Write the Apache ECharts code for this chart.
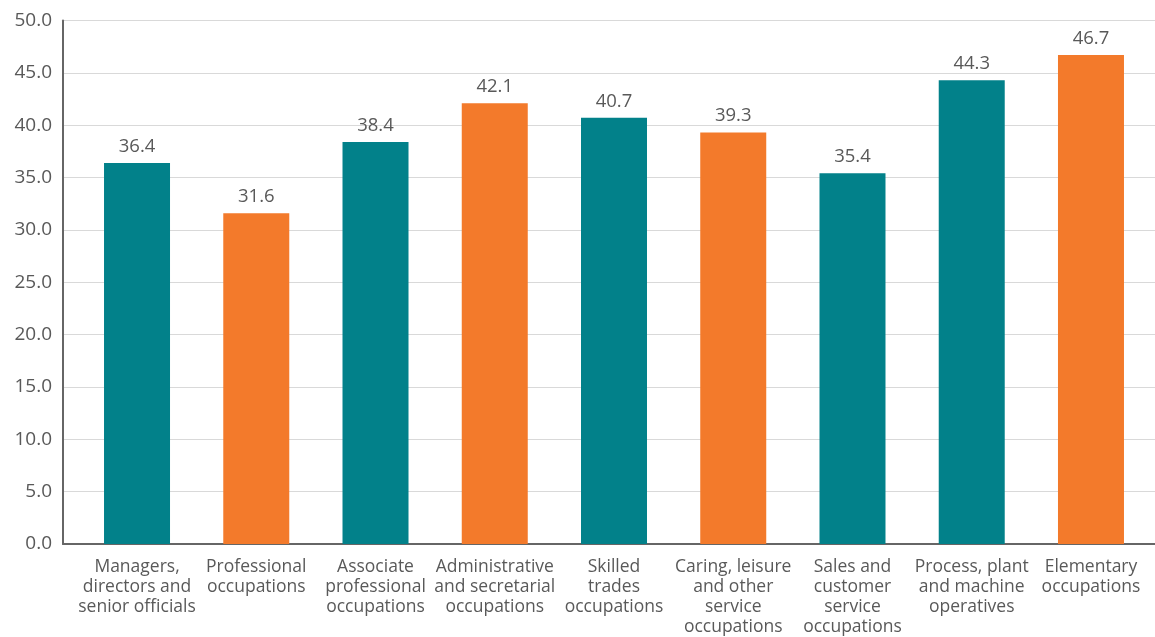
<!DOCTYPE html>
<html><head><meta charset="utf-8">
<script src="https://cdn.jsdelivr.net/npm/echarts@6/dist/echarts.min.js"></script>
<style>html,body{margin:0;padding:0;background:#fff}#c{width:1155px;height:637px}</style>
</head><body><div id="c"></div>
<script>
const categories = [
  "Managers,\ndirectors and\nsenior officials",
  "Professional\noccupations",
  "Associate\nprofessional\noccupations",
  "Administrative\nand secretarial\noccupations",
  "Skilled\ntrades\noccupations",
  "Caring, leisure\nand other\nservice\noccupations",
  "Sales and\ncustomer\nservice\noccupations",
  "Process, plant\nand machine\noperatives",
  "Elementary\noccupations"
];
const values = [36.4, 31.6, 38.4, 42.1, 40.7, 39.3, 35.4, 44.3, 46.7];
const barColors = ["teal","orange","teal","orange","teal","orange","teal","teal","orange"];
const yTicks = {min: 0, max: 50, interval: 5};

const palette = {teal: "#02818a", orange: "#f37a2b"};
const textColor = "#595959";
const font = "'Open Sans', sans-serif";

const chart = echarts.init(document.getElementById('c'));
chart.setOption({
  animation: false,
  grid: [
    {left: 63, right: 0, top: 20.5, bottom: 93, containLabel: false},
    {left: 77.4, right: 4.4, top: 20.5, bottom: 93, containLabel: false}
  ],
  xAxis: [
    {gridIndex: 0, type: 'value', min: 0, max: 1, axisLabel: {show: false}, axisTick: {show: false},
     splitLine: {show: false}, axisLine: {show: true, lineStyle: {color: '#666', width: 2}}},
    {gridIndex: 1, type: 'category', data: categories, axisLine: {show: false}, axisTick: {show: false},
     axisLabel: {interval: 0, color: textColor, fontFamily: font, fontSize: 17.5, lineHeight: 20, margin: 13}}
  ],
  yAxis: [
    {gridIndex: 0, type: 'value', min: yTicks.min, max: yTicks.max, interval: yTicks.interval,
     axisLine: {show: true, lineStyle: {color: '#666', width: 2}}, axisTick: {show: false},
     axisLabel: {color: textColor, fontFamily: font, fontSize: 19, margin: 11, formatter: v => v.toFixed(1)},
     splitLine: {show: true, lineStyle: {color: '#d9d9d9', width: 1}}},
    {gridIndex: 1, type: 'value', min: yTicks.min, max: yTicks.max, interval: yTicks.interval, show: false,
     splitLine: {show: false}}
  ],
  series: [{
    type: 'bar', xAxisIndex: 1, yAxisIndex: 1, barWidth: 66,
    data: values.map((v, i) => ({value: v, itemStyle: {color: palette[barColors[i]]}})),
    label: {show: true, position: 'top', distance: 7, color: textColor, fontFamily: font, fontSize: 18.5,
      formatter: p => p.value.toFixed(1)}
  }]
});
</script></body></html>
